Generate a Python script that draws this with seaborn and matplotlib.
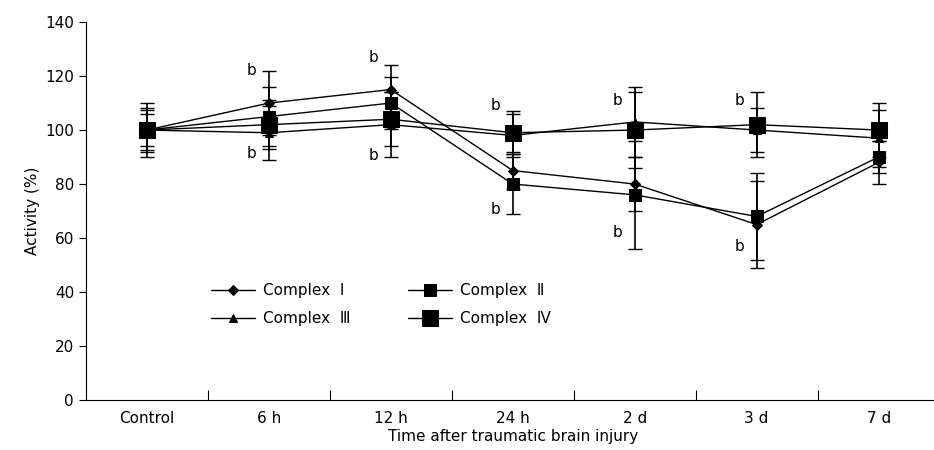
import numpy as np
import pandas as pd
import matplotlib
matplotlib.use("Agg")
import matplotlib.pyplot as plt
import seaborn as sns

times = ["Control", "6 h", "12 h", "24 h", "2 d", "3 d", "7 d"]
series = ["Complex  \u2160", "Complex  \u2161", "Complex  \u2162", "Complex  \u2163"]

complex_1 = [100, 110, 115, 85, 80, 65, 88]
complex_2 = [100, 105, 110, 80, 76, 68, 90]
complex_3 = [100, 99, 102, 98, 103, 100, 97]
complex_4 = [100, 102, 104, 99, 100, 102, 100]

err_1 = [10, 12, 9, 7, 10, 16, 8]
err_2 = [8, 11, 9.5, 11, 20, 16, 6]
err_3 = [6, 10, 12, 8, 13, 8, 10.5]
err_4 = [7.5, 9, 10, 8, 14, 12, 10]

# significance marks ("b") above / below the bars
b_upper = [None, 122, 127, 109, 111, 111, None]
b_lower = [None, 91.5, 90.5, 70.5, 62, 57, None]

sns.set_style("ticks", {"axes.edgecolor": "black", "text.color": "black",
                        "xtick.color": "black", "ytick.color": "black",
                        "axes.labelcolor": "black"})
plt.rcParams["font.family"] = ["DejaVu Sans", "Noto Sans CJK SC"]

values = [complex_1, complex_2, complex_3, complex_4]
errors = [err_1, err_2, err_3, err_4]
rows = []
for name, vals, errs in zip(series, values, errors):
    for i, t in enumerate(times):
        rows.append([name, i, t, vals[i], errs[i]])
df = pd.DataFrame(rows, columns=["Complex", "pos", "Time", "Activity", "SD"])

markers = ["D", "s", "^", "s"]
msizes = [5, 8, 6, 12]

fig = plt.figure(figsize=(9.34, 4.5), dpi=100)
ax = fig.add_axes([0.092, 0.111, 0.914, 0.84])

for name, m, ms in zip(series, markers, msizes):
    sub = df[df.Complex == name]
    ax.errorbar(sub.pos, sub.Activity, yerr=sub.SD, fmt="none", ecolor="black",
                elinewidth=1.2, capsize=5, capthick=1, zorder=2)
    sns.lineplot(data=sub, x="pos", y="Activity", color="black", marker=m,
                 markersize=ms, markeredgecolor="black", linewidth=1,
                 label=name, ax=ax, zorder=3)

for i in range(len(times)):
    if b_upper[i] is not None:
        ax.text(i - 0.14, b_upper[i], "b", ha="center", va="center", fontsize=11)
    if b_lower[i] is not None:
        ax.text(i - 0.14, b_lower[i], "b", ha="center", va="center", fontsize=11)

ax.set_xlim(-0.5, 6.5)
ax.set_ylim(0, 140)
ax.set_yticks(range(0, 141, 20))
ax.set_xticks(range(len(times)))
ax.set_xticklabels(times)
ax.set_xticks(np.arange(0.5, 6.5, 1), minor=True)
ax.tick_params(axis="x", which="major", length=0, labelsize=11, pad=8)
ax.tick_params(axis="x", which="minor", direction="in", length=7, width=0.8)
ax.tick_params(axis="y", direction="out", length=5, width=0.8, labelsize=11)
ax.set_xlabel("Time after traumatic brain injury", fontsize=11, labelpad=2)
ax.set_ylabel("Activity (%)", fontsize=11)
sns.despine(ax=ax)
for s in ["left", "bottom"]:
    ax.spines[s].set_linewidth(0.8)

# row-wise legend order: I, II / III, IV
handles, labels = ax.get_legend_handles_labels()
order = [0, 2, 1, 3]
ax.legend([handles[k] for k in order], [labels[k] for k in order], ncol=2,
          frameon=False, fontsize=11, loc="upper left",
          bbox_to_anchor=(0.13, 0.345), handlelength=2.9, handletextpad=0.5,
          columnspacing=3.8, labelspacing=0.85)

fig.savefig("out.png", dpi=100)
